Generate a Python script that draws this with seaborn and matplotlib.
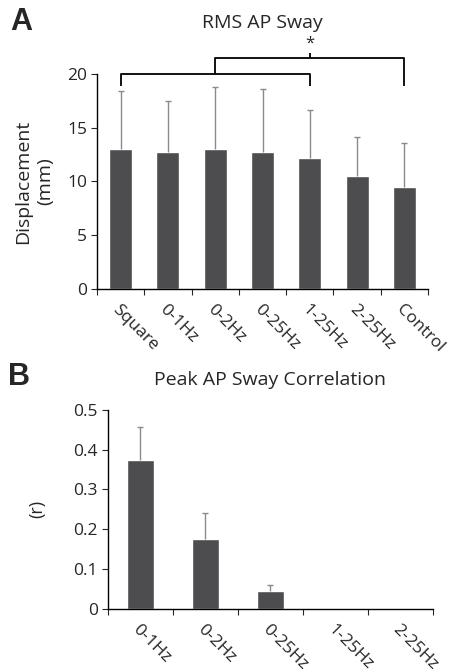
import numpy as np
import pandas as pd
import seaborn as sns
import matplotlib.pyplot as plt

# Panel A data: RMS AP sway (mm), mean and SD
rms_conditions = ["Square", "0-1Hz", "0-2Hz", "0-25Hz", "1-25Hz", "2-25Hz", "Control"]
rms_mean = [13.0, 12.7, 13.0, 12.7, 12.2, 10.5, 9.5]
rms_sd = [5.4, 4.8, 5.8, 5.9, 4.4, 3.6, 4.1]

# Panel B data: peak AP sway correlation (r), mean and SD
corr_conditions = ["0-1Hz", "0-2Hz", "0-25Hz", "1-25Hz", "2-25Hz"]
corr_mean = [0.373, 0.175, 0.044, -0.003, 0.0]
corr_sd = [0.084, 0.065, 0.017, 0.0, 0.0]

sns.set_style("white")
plt.rcParams['font.family'] = ['Open Sans', 'DejaVu Sans']

bar_color = "#4d4d4f"
err_color = "#8a8a8a"

fig = plt.figure(figsize=(4.53, 6.72), dpi=100)
ax_a = fig.add_axes([0.214, 0.570, 0.731, 0.320])
ax_b = fig.add_axes([0.238, 0.094, 0.718, 0.296])


def draw_panel(ax, cats, mean, sd, width):
    df = pd.DataFrame({"cond": cats, "mean": mean, "sd": sd})
    sns.barplot(data=df, x="cond", y="mean", color=bar_color, width=width,
                saturation=1, errorbar=None, ax=ax)
    n = len(cats)
    xs = np.arange(n)
    has_err = (df["sd"] > 0).to_numpy()
    _, caps, _ = ax.errorbar(xs[has_err], df["mean"][has_err],
                             yerr=[np.zeros(has_err.sum()), df["sd"][has_err]],
                             fmt="none", ecolor=err_color, elinewidth=1.0,
                             capsize=2.5, capthick=1.0)
    caps[0].set_visible(False)  # no cap at the bar top
    ax.set_xlim(-0.5, n - 0.5)
    ax.set_xticks(xs)
    ax.set_xticklabels(cats, rotation=-45, ha="left", va="top",
                       rotation_mode="anchor", fontsize=12.5)
    ax.tick_params(axis="x", length=0, pad=9)
    ax.set_xticks(np.arange(n + 1) - 0.5, minor=True)
    ax.tick_params(axis="x", which="minor", length=4, width=0.8, direction="out", bottom=True)
    ax.tick_params(axis="y", length=4, width=0.8, direction="out", left=True, labelsize=12.5, pad=3)
    ax.set_xlabel("")
    for s in ["top", "right"]:
        ax.spines[s].set_visible(False)
    for s in ["left", "bottom"]:
        ax.spines[s].set_color("black")
        ax.spines[s].set_linewidth(1.0)


# Panel A
draw_panel(ax_a, rms_conditions, rms_mean, rms_sd, 0.49)
ax_a.set_ylim(0, 20)
ax_a.set_yticks([0, 5, 10, 15, 20])
ax_a.set_ylabel("Displacement\n(mm)", fontsize=14, linespacing=1.35, labelpad=9)
ax_a.set_title("RMS AP Sway", fontsize=14, pad=33)

# significance brackets
kw = dict(color="black", lw=1.3, clip_on=False, solid_capstyle="butt")
ax_a.plot([0, 0, 4, 4], [18.9, 20.0, 20.0, 18.9], **kw)
ax_a.plot([2, 2, 6, 6], [20.0, 21.5, 21.5, 18.9], **kw)
ax_a.plot([4, 4], [21.5, 21.9], **kw)
ax_a.text(4, 22.8, "*", ha="center", va="center", fontsize=12)
fig.text(0.022, 0.967, "A", fontsize=22, fontweight="bold", family="Liberation Sans", va="center")

# Panel B
draw_panel(ax_b, corr_conditions, corr_mean, corr_sd, 0.42)
ax_b.set_ylim(0, 0.5)
ax_b.set_yticks([0, 0.1, 0.2, 0.3, 0.4, 0.5])
ax_b.set_yticklabels(["0", "0.1", "0.2", "0.3", "0.4", "0.5"])
ax_b.set_ylabel("(r)", fontsize=13, labelpad=20)
ax_b.set_title("Peak AP Sway Correlation", fontsize=14, pad=18)
for p in ax_b.patches:
    p.set_clip_on(False)
fig.text(0.018, 0.439, "B", fontsize=22, fontweight="bold", family="Liberation Sans", va="center")

fig.savefig("out.png", dpi=100)
